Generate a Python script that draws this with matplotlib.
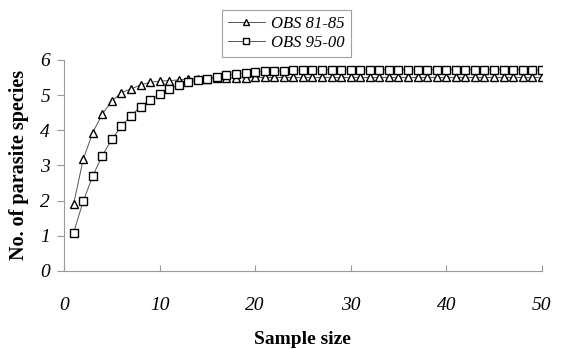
import matplotlib.pyplot as plt

# data
sample = list(range(1, 51))
obs_81_85 = [1.90, 3.17, 3.93, 4.46, 4.83, 5.07, 5.17, 5.29, 5.36, 5.40,
             5.41, 5.43, 5.45, 5.46, 5.47, 5.48, 5.48, 5.49, 5.49, 5.50,
             5.50, 5.50, 5.50, 5.50, 5.50, 5.50, 5.50, 5.50, 5.50, 5.50,
             5.50, 5.50, 5.50, 5.50, 5.50, 5.50, 5.50, 5.50, 5.50, 5.50,
             5.50, 5.50, 5.50, 5.50, 5.50, 5.50, 5.50, 5.50, 5.50, 5.50]
obs_95_00 = [1.09, 1.98, 2.70, 3.28, 3.74, 4.12, 4.41, 4.67, 4.86, 5.03,
             5.17, 5.29, 5.36, 5.42, 5.47, 5.52, 5.56, 5.60, 5.62, 5.65,
             5.67, 5.68, 5.69, 5.70, 5.71, 5.72, 5.72, 5.72, 5.72, 5.72,
             5.72, 5.72, 5.72, 5.72, 5.72, 5.72, 5.72, 5.72, 5.72, 5.72,
             5.72, 5.72, 5.72, 5.72, 5.72, 5.72, 5.72, 5.72, 5.72, 5.72]

plt.rcParams['font.family'] = 'Liberation Serif'

fig = plt.figure(figsize=(5.62, 3.49), dpi=100)
ax = fig.add_axes([0.114, 0.2235, 0.85, 0.605])

ax.plot(sample, obs_81_85, marker='^', color='#555555', lw=0.7, ms=6,
        mfc='white', mec='black', mew=1.0, label='OBS 81-85')
ax.plot(sample, obs_95_00, marker='s', color='#555555', lw=0.7, ms=5.5,
        mfc='white', mec='black', mew=1.0, label='OBS 95-00')

ax.set_xlim(0, 50)
ax.set_ylim(0, 6)
ax.set_xticks(range(0, 51, 10))
ax.set_yticks(range(0, 7))
for s in ['top', 'right']:
    ax.spines[s].set_visible(False)
for s in ['left', 'bottom']:
    ax.spines[s].set_color('#999999')
ax.tick_params(axis='y', direction='out', length=5, color='#999999',
               labelsize=14, pad=5)
ax.tick_params(axis='x', direction='in', length=4, color='#999999',
               labelsize=14, pad=19)
for lab in ax.get_xticklabels() + ax.get_yticklabels():
    lab.set_style('italic')

ax.set_xlabel('Sample size', fontsize=14, fontweight='bold', labelpad=12)
ax.set_ylabel('No. of parasite species', fontsize=14.5, fontweight='bold',
              labelpad=8)

leg = fig.legend(loc='upper center', bbox_to_anchor=(0.51, 0.995),
                 frameon=True, fancybox=False, handlelength=2.2,
                 prop={'style': 'italic', 'size': 12}, borderpad=0.35,
                 labelspacing=0.2, handletextpad=0.4, markerscale=0.8)
leg.get_frame().set_edgecolor('#888888')
leg.get_frame().set_linewidth(0.8)

plt.savefig('out.png')
